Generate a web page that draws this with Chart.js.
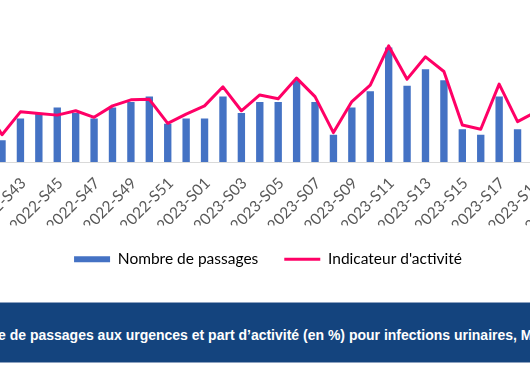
<!DOCTYPE html>
<html lang="fr">
<head>
<meta charset="utf-8">
<title>Passages aux urgences - infections urinaires</title>
<script src="https://cdn.jsdelivr.net/npm/chart.js@4.4.1/dist/chart.umd.min.js"></script>
<style>
  html, body { margin: 0; padding: 0; background: #fff; }
  body { width: 530px; height: 369px; overflow: hidden; position: relative; }
  /* le graphique d'origine est plus large que la vue : on le décale */
  #cadre { position: absolute; left: -46px; top: -20px; width: 628px; height: 300px; }
  .titre {
    position: absolute; left: 0; top: 302px; width: 530px; height: 61px;
    box-sizing: border-box; background: #14447e;
    border-top: 1px solid #8da2c0; border-bottom: 1px solid #8da2c0;
    overflow: hidden; white-space: nowrap; color: #fff;
    font: bold 14px "Liberation Sans", Arial, sans-serif;
  }
  .titre .txt { position: absolute; left: -2px; top: 24px; }
  .titre .avant { position: absolute; right: 100%; }
</style>
</head>
<body>
<div id="cadre"><canvas id="chartPassages"></canvas></div>
<div class="titre"><span class="txt"><span class="avant">Nombr</span>e de passages aux urgences et part d’activité (en %) pour infections urinaires, Martinique</span></div>

<script>
// Semaines (S41 et S19-S21 sont en partie hors cadre)
const semaines = [
    '2022-S41', '2022-S42', '2022-S43', '2022-S44', '2022-S45', '2022-S46', '2022-S47',
    '2022-S48', '2022-S49', '2022-S50', '2022-S51', '2022-S52',
    '2023-S01', '2023-S02', '2023-S03', '2023-S04', '2023-S05', '2023-S06', '2023-S07',
    '2023-S08', '2023-S09', '2023-S10', '2023-S11', '2023-S12', '2023-S13', '2023-S14',
    '2023-S15', '2023-S16', '2023-S17', '2023-S18', '2023-S19', '2023-S20', '2023-S21'
];

// Nombre de passages (axe gauche)
const passages = [
    null, 4, 8, 9, 10, 9, 8, 10, 11, 12, 7, 8,
    8, 12, 9, 11, 11, 15, 11, 5, 10, 13, 21, 14, 17, 15, 6, 5, 12, 6, null, null, null
];

// Indicateur d'activité en % (axe droit)
const activite = [
    1.05, 0.50, 0.92, 0.89, 0.86, 0.94, 0.82, 1.03, 1.14, 1.15, 0.71, 0.88,
    1.03, 1.38, 0.94, 1.23, 1.16, 1.54, 1.20, 0.54, 1.11, 1.41, 2.13, 1.52, 1.93, 1.66,
    0.68, 0.60, 1.43, 0.74, 0.92, null, null
];

const legende = ['Nombre de passages', "Indicateur d'activité"];

const bleu = '#4472c4';
const rose = '#ff0066';

Chart.defaults.font.family = 'Lato, "Open Sans", sans-serif';
Chart.defaults.color = '#595959';

const ctx = document.getElementById('chartPassages').getContext('2d');
new Chart(ctx, {
    type: 'bar',
    data: {
        labels: semaines,
        datasets: [
            {
                type: 'line',
                label: legende[1],
                data: activite,
                yAxisID: 'y1',
                borderColor: rose,
                backgroundColor: rose,
                borderWidth: 3,
                borderJoinStyle: 'round',
                pointRadius: 0,
                tension: 0,
                order: 0
            },
            {
                label: legende[0],
                data: passages,
                yAxisID: 'y',
                backgroundColor: bleu,
                categoryPercentage: 1,
                barPercentage: 0.4,
                order: 1
            }
        ]
    },
    options: {
        responsive: true,
        maintainAspectRatio: false,
        animation: false,
        layout: { padding: { top: 18.5, bottom: 3, left: 0, right: 0 } },
        scales: {
            x: {
                grid: { display: false },
                border: { color: '#d9d9d9', width: 1 },
                ticks: {
                    autoSkip: false,
                    minRotation: 45,
                    maxRotation: 45,
                    padding: 4,
                    labelOffset: 3,
                    font: { size: 15.5 },
                    color: '#595959',
                    callback: function(v, i) {
                        return i % 2 === 0 ? this.getLabelForValue(v) : '';
                    }
                },
                afterFit: function(scale) {
                    scale.paddingLeft = 0;
                    scale.paddingRight = 0;
                    scale.height = 63.5;
                }
            },
            y: {
                min: 0,
                max: 30,
                grid: { display: false },
                border: { display: false },
                ticks: { display: false },
                afterFit: function(scale) { scale.width = 20.4; }
            },
            y1: {
                position: 'right',
                display: false,
                min: 0,
                max: 3
            }
        },
        plugins: {
            tooltip: { enabled: false },
            legend: {
                position: 'bottom',
                labels: {
                    usePointStyle: true,
                    pointStyleWidth: 36,
                    boxHeight: 6,
                    padding: 26,
                    color: '#595959',
                    font: { size: 15.5 },
                    generateLabels: () => [
                        { text: legende[0], fillStyle: bleu, strokeStyle: bleu, lineWidth: 0, pointStyle: 'rect', datasetIndex: 1 },
                        { text: legende[1], fillStyle: rose, strokeStyle: rose, lineWidth: 3, pointStyle: 'line', datasetIndex: 0 }
                    ]
                }
            }
        }
    }
});
</script>
</body>
</html>
